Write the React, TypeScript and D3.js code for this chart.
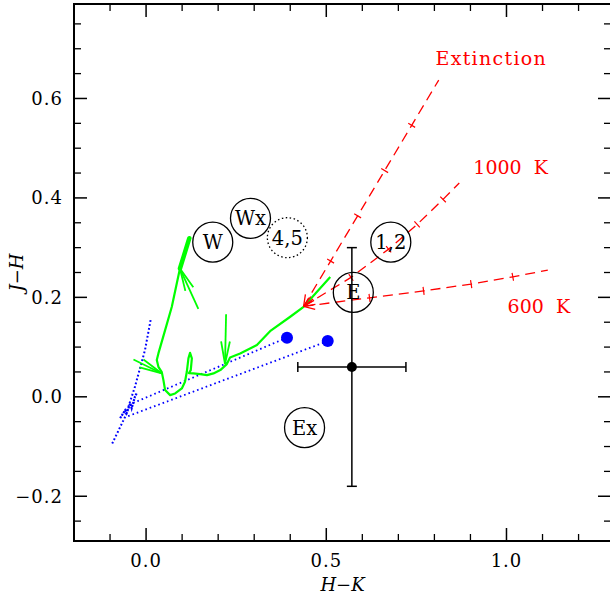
import React from 'react';
import * as d3 from 'd3';

const WIDTH = 610;
const HEIGHT = 597;

// axes
const xDomain: [number, number] = [-0.2, 1.29];
const yDomain: [number, number] = [-0.29, 0.79];
const xMajorTicks = [0, 0.5, 1.0];
const xMajorLabels = ['0.0', '0.5', '1.0'];
const xMinorTicks = [-0.1, 0.1, 0.2, 0.3, 0.4, 0.6, 0.7, 0.8, 0.9, 1.1, 1.2];
const yMajorTicks = [-0.2, 0, 0.2, 0.4, 0.6];
const yMajorLabels = ['\u22120.2', '0.0', '0.2', '0.4', '0.6'];
const yMinorTicks = [-0.25, -0.15, -0.1, -0.05, 0.05, 0.1, 0.15, 0.25, 0.3, 0.35, 0.45, 0.5, 0.55, 0.65, 0.7, 0.75];

// green track (H-K, J-H)
const greenTrack: [number, number][] = [
  [0.094, 0.258], [0.0714, 0.181], [0.0528, 0.134], [0.0342, 0.0873], [0.0297, 0.0738],
  [0.0342, 0.0603], [0.0436, 0.0497], [0.0481, 0.0336], [0.0528, 0.0135], [0.0667, 0.0034],
  [0.0806, 0.0068], [0.0992, 0.0169], [0.108, 0.0302], [0.113, 0.0503], [0.1175, 0.0772],
  [0.122, 0.0885], [0.127, 0.0772], [0.124, 0.0537], [0.119, 0.0477], [0.131, 0.0471],
  [0.15, 0.0457], [0.169, 0.0436], [0.187, 0.0471], [0.206, 0.0537], [0.224, 0.0658],
  [0.233, 0.079], [0.261, 0.087], [0.3075, 0.104], [0.344, 0.132], [0.4, 0.161],
  [0.437, 0.181], [0.511, 0.241],
];
const greenThick: [number, number][] = [[0.12, 0.319], [0.094, 0.258]];
const greenArrowTips: [number, number][] = [[0.094, 0.258], [0.0436, 0.047], [0.219, 0.066]];
const greenArrowTails: [number, number][] = [[0.145, 0.177], [-0.035, 0.075], [0.222, 0.166]];

// blue
const blueLocus: [number, number][] = [
  [-0.094, -0.094], [-0.058, -0.04], [-0.031, 0.02], [-0.017, 0.057], [-0.003, 0.094], [0.013, 0.156],
];
const blueWiggle: [number, number][] = [
  [-0.072, -0.043], [-0.058, -0.027], [-0.054, -0.033], [-0.044, -0.013], [-0.04, -0.023],
  [-0.031, 0.0], [-0.026, 0.007],
];
const bluePoints: [number, number][] = [[0.391, 0.119], [0.504, 0.112]];
const blueLineEnds: [number, number][] = [[-0.044, -0.015], [-0.054, -0.04]];

// red vectors
const redOrigin: [number, number] = [0.437, 0.182];
const extinctionPts: [number, number][] = [[0.512, 0.273], [0.587, 0.364], [0.662, 0.455], [0.737, 0.546], [0.812, 0.637]];
const k1000Pts: [number, number][] = [[0.5686, 0.2401], [0.673, 0.297], [0.752, 0.3467], [0.824, 0.397], [0.869, 0.43]];
const k600Pts: [number, number][] = [[0.62, 0.199], [0.77, 0.213], [0.902, 0.2267], [1.0175, 0.2413], [1.1147, 0.2548]];
const redLabels = ['Extinction', '1000  K', '600  K'];
const redLabelPos: [number, number][] = [[0.803, 0.667], [0.908, 0.448], [1.003, 0.168]];

// error bar
const errCenter: [number, number] = [0.571, 0.06];
const errX = 0.15;
const errY = 0.24;

// circled labels
const circleLabels = ['W', 'Wx', '4,5', '1,2', 'E', 'Ex'];
const circlePos: [number, number][] = [
  [0.185, 0.311], [0.2897, 0.359], [0.392, 0.32], [0.679, 0.311], [0.575, 0.21], [0.4397, -0.062],
];
const circleDotted = [false, false, true, false, false, false];

const FONT = '"DejaVu Serif", serif';
const GREEN = '#00ff00';

export default function App() {
  const x = d3.scaleLinear().domain(xDomain).range([74, 611]);
  const y = d3.scaleLinear().domain(yDomain).range([541, 4]);
  const line = d3.line<[number, number]>().x(d => x(d[0])).y(d => y(d[1]));

  const [x0, x1] = x.range();
  const [yb, yt] = y.range();
  const MAJ = 13, MIN = 7;

  const arrowBarbs = (tip: [number, number], tail: [number, number], len: number, ang: number) => {
    const tx = x(tip[0]), ty = y(tip[1]);
    const a = Math.atan2(y(tail[1]) - ty, x(tail[0]) - tx);
    const r = (ang * Math.PI) / 180;
    return [a - r, a + r].map(b => `M${tx + len * Math.cos(b)},${ty + len * Math.sin(b)}L${tx},${ty}`).join('');
  };

  const crossTicks = (pts: [number, number][], from: [number, number]) => {
    let d = '';
    pts.slice(0, -1).forEach((p, i) => {
      const prev = i === 0 ? from : pts[i - 1];
      const next = pts[i + 1];
      const dx = x(next[0]) - x(prev[0]);
      const dy = y(next[1]) - y(prev[1]);
      const L = Math.hypot(dx, dy);
      const nx = -dy / L, ny = dx / L;
      const px = x(p[0]), py = y(p[1]);
      d += `M${px - 4 * nx},${py - 4 * ny}L${px + 4 * nx},${py + 4 * ny}`;
    });
    return d;
  };

  const redSeries = [extinctionPts, k1000Pts, k600Pts];

  return (
    <svg width={WIDTH} height={HEIGHT} style={{ position: 'fixed', left: 0, top: 0, background: '#fff' }}>
      <rect x={0} y={0} width={WIDTH} height={HEIGHT} fill="#fff" />
      {/* blue */}
      <path d={line(blueLocus) || ''} fill="none" stroke="#0000ff" strokeWidth={2} strokeDasharray="1.8,2.2" />
      <path d={line(blueWiggle) || ''} fill="none" stroke="#0000ff" strokeWidth={2.2} strokeDasharray="2,1" />
      {bluePoints.map((p, i) => (
        <path key={'bl' + i} d={line([p, blueLineEnds[i]]) || ''} fill="none" stroke="#0000ff" strokeWidth={1.8} strokeDasharray="1.6,3" />
      ))}
      {/* green */}
      <path d={line(greenTrack) || ''} fill="none" stroke={GREEN} strokeWidth={2.2} strokeLinejoin="round" />
      <path d={line(greenThick) || ''} fill="none" stroke={GREEN} strokeWidth={4.5} strokeLinecap="round" />
      {greenArrowTips.map((t, i) => (
        <g key={'ga' + i}>
          <path d={line([t, greenArrowTails[i]]) || ''} stroke={GREEN} strokeWidth={1.8} fill="none" />
          <path d={arrowBarbs(t, greenArrowTails[i], 23, 11)} stroke={GREEN} strokeWidth={1.8} fill="none" />
        </g>
      ))}
      {/* red vectors */}
      {redSeries.map((s, i) => (
        <g key={'r' + i}>
          <path d={line([redOrigin, ...s]) || ''} fill="none" stroke="#ff0000" strokeWidth={1.3} strokeDasharray="10,6" />
          <path d={crossTicks(s, redOrigin)} fill="none" stroke="#ff0000" strokeWidth={1.2} />
          <path d={arrowBarbs(redOrigin, s[0], 12, 22)} fill="none" stroke="#ff0000" strokeWidth={1.3} />
        </g>
      ))}
      {redLabels.map((t, i) => (
        <text key={'rl' + i} x={x(redLabelPos[i][0])} y={y(redLabelPos[i][1])} fill="#ff0000" fontFamily={FONT}
          fontSize={19} style={{ whiteSpace: 'pre' }} letterSpacing={i === 0 ? 1.3 : 0}>{t}</text>
      ))}
      {/* blue points */}
      {bluePoints.map((p, i) => (
        <circle key={'bp' + i} cx={x(p[0])} cy={y(p[1])} r={6} fill="#0000ff" />
      ))}
      {/* circles */}
      {circleLabels.map((t, i) => (
        <g key={'c' + i}>
          <circle cx={x(circlePos[i][0])} cy={y(circlePos[i][1])} r={20} fill="none" stroke="#000" strokeWidth={1.3}
            strokeDasharray={circleDotted[i] ? '1.5,2.5' : undefined} />
          <text x={x(circlePos[i][0])} y={y(circlePos[i][1]) + 7} textAnchor="middle" fontFamily={FONT} fontSize={19.5}>{t}</text>
        </g>
      ))}
      {/* error bar */}
      <g stroke="#000" strokeWidth={1.5} fill="none">
        <line x1={x(errCenter[0])} x2={x(errCenter[0])} y1={y(errCenter[1] - errY)} y2={y(errCenter[1] + errY)} />
        <line x1={x(errCenter[0]) - 5} x2={x(errCenter[0]) + 5} y1={y(errCenter[1] - errY)} y2={y(errCenter[1] - errY)} />
        <line x1={x(errCenter[0]) - 5} x2={x(errCenter[0]) + 5} y1={y(errCenter[1] + errY)} y2={y(errCenter[1] + errY)} />
        <line x1={x(errCenter[0] - errX)} x2={x(errCenter[0] + errX)} y1={y(errCenter[1])} y2={y(errCenter[1])} />
        <line x1={x(errCenter[0] - errX)} x2={x(errCenter[0] - errX)} y1={y(errCenter[1]) - 5} y2={y(errCenter[1]) + 5} />
        <line x1={x(errCenter[0] + errX)} x2={x(errCenter[0] + errX)} y1={y(errCenter[1]) - 5} y2={y(errCenter[1]) + 5} />
      </g>
      <circle cx={x(errCenter[0])} cy={y(errCenter[1])} r={5} fill="#000" />
      {/* frame + ticks */}
      <g stroke="#000" fill="none">
        <rect x={x0} y={yt} width={x1 - x0} height={yb - yt} strokeWidth={2} />
        {xMajorTicks.map(v => (
          <g key={'xm' + v} strokeWidth={1.5}>
            <line x1={x(v)} x2={x(v)} y1={yb} y2={yb - MAJ} />
            <line x1={x(v)} x2={x(v)} y1={yt} y2={yt + MAJ} />
          </g>
        ))}
        {xMinorTicks.map(v => (
          <g key={'xn' + v} strokeWidth={1.3}>
            <line x1={x(v)} x2={x(v)} y1={yb} y2={yb - MIN} />
            <line x1={x(v)} x2={x(v)} y1={yt} y2={yt + MIN} />
          </g>
        ))}
        {yMajorTicks.map(v => (
          <g key={'ym' + v} strokeWidth={1.5}>
            <line x1={x0} x2={x0 + MAJ} y1={y(v)} y2={y(v)} />
            <line x1={x1} x2={x1 - MAJ} y1={y(v)} y2={y(v)} />
          </g>
        ))}
        {yMinorTicks.map(v => (
          <g key={'yn' + v} strokeWidth={1.3}>
            <line x1={x0} x2={x0 + MIN} y1={y(v)} y2={y(v)} />
            <line x1={x1} x2={x1 - MIN} y1={y(v)} y2={y(v)} />
          </g>
        ))}
      </g>
      {xMajorTicks.map((v, i) => (
        <text key={'xl' + v} x={x(v)} y={567} textAnchor="middle" fontFamily={FONT} fontSize={18} letterSpacing={1}>{xMajorLabels[i]}</text>
      ))}
      {yMajorTicks.map((v, i) => (
        <text key={'yl' + v} x={63} y={y(v) + 6.5} textAnchor="end" fontFamily={FONT} fontSize={18} letterSpacing={1}>{yMajorLabels[i]}</text>
      ))}
      <text x={(x0 + x1) / 2} y={591} textAnchor="middle" fontFamily={FONT} fontSize={18} fontStyle="italic">H{'\u2212'}K</text>
      <text transform={`translate(23,${(yt + yb) / 2}) rotate(-90)`} textAnchor="middle" fontFamily={FONT} fontSize={18} fontStyle="italic">J{'\u2212'}H</text>
    </svg>
  );
}
